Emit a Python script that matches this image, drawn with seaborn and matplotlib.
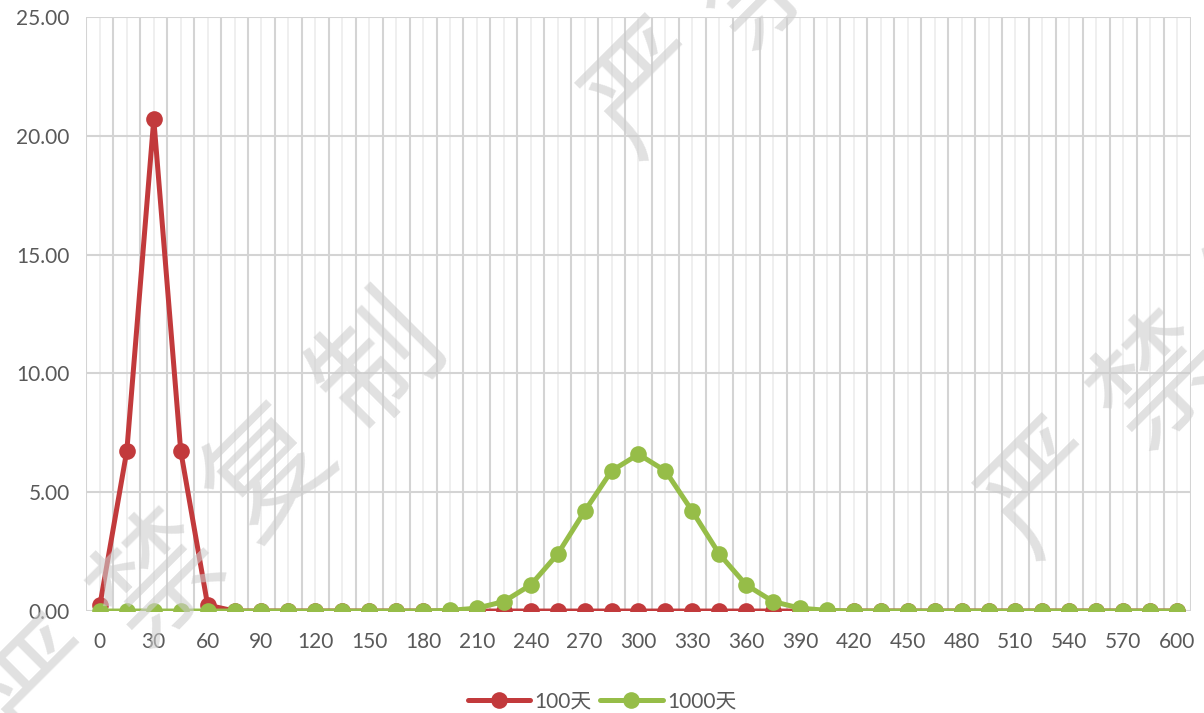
import numpy as np
import pandas as pd
import matplotlib
matplotlib.use("Agg")
import matplotlib.pyplot as plt
from matplotlib.ticker import MultipleLocator, FormatStrFormatter
import seaborn as sns

# x categories (days) and the two series
days = [0, 15, 30, 45, 60, 75, 90, 105, 120, 135, 150, 165, 180, 195,
        210, 225, 240, 255, 270, 285, 300, 315, 330, 345, 360, 375, 390,
        405, 420, 435, 450, 465, 480, 495, 510, 525, 540, 555, 570, 585, 600]
s100 = [0.25, 6.75, 20.7, 6.75, 0.25, 0.0, 0.0, 0.0, 0.0, 0.0, 0.0, 0.0, 0.0, 0.0,
        0.0, 0.0, 0.0, 0.0, 0.0, 0.0, 0.0, 0.0, 0.0, 0.0, 0.0, 0.0, 0.0,
        0.0, 0.0, 0.0, 0.0, 0.0, 0.0, 0.0, 0.0, 0.0, 0.0, 0.0, 0.0, 0.0, 0.0]
s1000 = [0.0, 0.0, 0.0, 0.0, 0.0, 0.0, 0.0, 0.0, 0.0, 0.0, 0.0, 0.0, 0.0, 0.03,
         0.12, 0.40, 1.10, 2.40, 4.20, 5.90, 6.60, 5.90, 4.20, 2.40, 1.10, 0.40, 0.12,
         0.03, 0.0, 0.0, 0.0, 0.0, 0.0, 0.0, 0.0, 0.0, 0.0, 0.0, 0.0, 0.0, 0.0]
labels = ['100天', '1000天']
colors = ['#C23A3C', '#96BD48']

df = pd.DataFrame({'day': days, labels[0]: s100, labels[1]: s1000})
long = df.melt(id_vars='day', var_name='series', value_name='value')

sns.set_style('white')
plt.rcParams['font.family'] = ['Lato', 'Noto Sans CJK SC', 'DejaVu Sans']

fig = plt.figure(figsize=(12.04, 7.13), dpi=100)
ax = fig.add_axes([0.0718, 0.143, 0.9170, 0.833])

for i, name in enumerate(labels):
    sns.lineplot(data=long[long['series'] == name], x='day', y='value',
                 color=colors[i], linewidth=3.6, marker='o', markersize=12,
                 markeredgecolor=colors[i], markeredgewidth=0,
                 label=name, ax=ax, zorder=3 + i)

ax.set_xlim(-7.5, 607.5)
ax.set_ylim(0, 25)
ax.xaxis.set_major_locator(MultipleLocator(30))
ax.yaxis.set_major_locator(MultipleLocator(5))
ax.yaxis.set_major_formatter(FormatStrFormatter('%.2f'))
ax.set_xlabel('')
ax.set_ylabel('')

# category boundaries (stronger) and centers (faint)
for b in np.arange(-7.5, 615, 15):
    ax.axvline(b, color='#d4d4d4', linewidth=1.5, zorder=0)
for c in days:
    ax.axvline(c, color='#ececec', linewidth=1.2, zorder=0)
for v in range(0, 26, 5):
    ax.axhline(v, color='#d4d4d4', linewidth=1.5, zorder=0)

for sp in ax.spines.values():
    sp.set_visible(False)
ax.tick_params(axis='both', length=0, labelsize=15, labelcolor='#595959')
ax.tick_params(axis='x', pad=15)
ax.tick_params(axis='y', pad=12)

ax.get_legend().remove()
handles, _ = ax.get_legend_handles_labels()
fig.legend(handles, labels, loc='lower center', bbox_to_anchor=(0.5, -0.024),
           ncol=2, frameon=False, fontsize=15, handlelength=3.0,
           handletextpad=0.2, columnspacing=0.4, labelcolor='#595959')

# watermark
W, H = 1204, 713
for x0, y0 in [(50, 688), (653, 90), (1050, 490)]:
    for k, ch in enumerate('严禁复制'):
        px, py = x0 + 110 * k, y0 - 108 * k
        fig.text(px / W, 1 - py / H, ch, fontsize=90, rotation=45,
                 fontweight='medium', family=['Noto Sans CJK SC'],
                 color='#cdcdcd', alpha=0.6,
                 ha='center', va='center', zorder=10)

fig.savefig('out.png', dpi=100)
